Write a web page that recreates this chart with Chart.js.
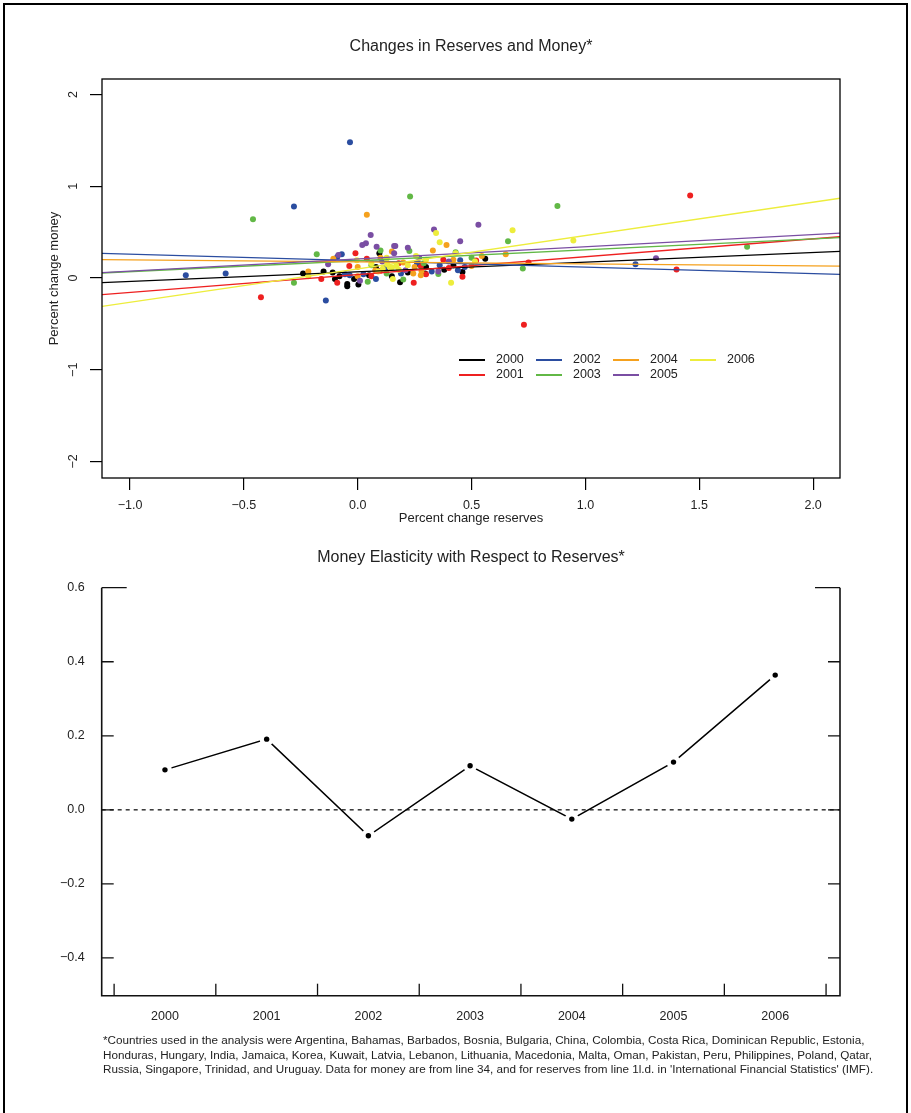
<!DOCTYPE html>
<html>
<head>
<meta charset="utf-8">
<script src="https://cdn.jsdelivr.net/npm/chart.js@4.4.1/dist/chart.umd.min.js"></script>
<style>
  body { margin: 0; background: #fff; font-family: "Liberation Sans", Arial, sans-serif; color: #222; }
  #page { position: relative; width: 911px; height: 1113px; overflow: hidden; }
  #frame { position: absolute; left: 3px; top: 3px; width: 901px; height: 1130px; border: 2px solid #000; }
  .ttl { position: absolute; left: 102px; width: 738px; text-align: center; font-size: 16px; line-height: 18px; }
  #c1 { position: absolute; left: 0; top: 0; }
  #c2 { position: absolute; left: 0; top: 530px; }
  #note { position: absolute; left: 103px; top: 1033px; font-size: 11.7px; line-height: 14.5px; white-space: nowrap; }
</style>
</head>
<body>
<div id="page">
  <div id="frame"></div>
  <canvas id="c1" width="911" height="535"></canvas>
  <canvas id="c2" width="911" height="500"></canvas>
  <div class="ttl" style="top:37px">Changes in Reserves and Money*</div>
  <div class="ttl" style="top:548px">Money Elasticity with Respect to Reserves*</div>
  <div id="note">*Countries used in the analysis were Argentina, Bahamas, Barbados, Bosnia, Bulgaria, China, Colombia, Costa Rica, Dominican Republic, Estonia,<br>Honduras, Hungary, India, Jamaica, Korea, Kuwait, Latvia, Lebanon, Lithuania, Macedonia, Malta, Oman, Pakistan, Peru, Philippines, Poland, Qatar,<br>Russia, Singapore, Trinidad, and Uruguay. Data for money are from line 34, and for reserves from line 1l.d. in 'International Financial Statistics' (IMF).</div>
</div>
<script>
// ---- data ----
const years = [2000, 2001, 2002, 2003, 2004, 2005, 2006];
const colors = ['#000000', '#ee2020', '#2b4da0', '#62b846', '#f5a11e', '#7a4ea3', '#eded3c'];

// [percent change reserves, percent change money] by year
const pts2000 = [[-0.24,0.05],[-0.15,0.07],[-0.11,0.06],[-0.10,-0.01],[-0.046,-0.065],[-0.046,-0.09],[0.003,-0.07],[-0.016,-0.01],[0.095,0.27],[0.186,-0.045],[0.296,0.05],[0.46,0.065],[0.56,0.21],[0.05,0.03],[0.12,0.10],[0.22,0.06],[0.30,0.12],[0.38,0.09],[0.15,0.02],[0.27,0.15],[0.42,0.14],[0.08,0.12],[-0.08,0.02]];
const pts2001 = [[-0.425,-0.21],[-0.16,-0.01],[-0.09,-0.05],[-0.01,0.27],[-0.037,0.13],[0.04,0.21],[0.246,-0.05],[0.46,0.015],[0.277,0.13],[0.40,0.11],[0.376,0.20],[0.73,-0.51],[1.46,0.90],[1.40,0.094],[0.75,0.17],[0.10,0.08],[0.18,0.16],[0.30,0.04],[0.52,0.19],[0.06,0.02]];
const pts2002 = [[-0.034,1.48],[-0.28,0.78],[-0.755,0.03],[-0.58,0.05],[-0.14,-0.245],[-0.07,0.26],[-0.09,0.23],[-0.035,0.03],[-0.056,0.04],[0.025,0.04],[0.08,-0.01],[0.47,0.12],[0.44,0.086],[0.45,0.195],[0.325,0.07],[0.19,0.05],[1.22,0.15],[0.12,0.11],[0.26,0.17],[0.36,0.14]];
const pts2003 = [[-0.46,0.64],[0.23,0.89],[0.877,0.786],[-0.28,-0.05],[1.71,0.34],[0.725,0.105],[-0.18,0.26],[0.66,0.40],[0.10,0.30],[0.044,-0.04],[0.354,0.043],[0.20,-0.015],[0.127,0.05],[0.43,0.28],[0.227,0.295],[0.29,0.16],[0.50,0.22],[0.06,0.14]];
const pts2004 = [[0.04,0.69],[-0.107,0.21],[-0.217,0.07],[0,0.12],[0,0.02],[0.077,0.086],[0.15,0.29],[0.39,0.36],[0.65,0.26],[0.545,0.24],[0.50,0.13],[0.33,0.30],[0.277,0.03],[0.244,0.05],[0.28,0.076],[0.20,0.17],[0.10,0.22],[0.42,0.20],[0.25,0.12]];
const pts2005 = [[0.53,0.58],[0.335,0.53],[0.45,0.40],[1.31,0.216],[0.057,0.47],[0.02,0.36],[0.036,0.38],[0.083,0.34],[0.16,0.35],[-0.13,0.15],[-0.085,0.25],[0.16,0.27],[0.01,-0.03],[0.22,0.33],[0.165,0.35],[0.21,0.086],[0.108,0.18],[0.354,0.07],[0.27,0.22],[0.40,0.18]];
const pts2006 = [[0.68,0.52],[0.947,0.41],[0.344,0.49],[0.36,0.39],[0.515,0.18],[0.41,-0.05],[0.154,-0.01],[0.43,0.27],[0.256,0.24],[0.14,0.12],[0.127,0.21],[-0.217,0.02],[-0.004,0.195],[0.06,0.16],[0.15,0.115],[0.127,0.22],[0.11,0.10],[0.17,0.13],[0.13,0.15],[0.18,0.09],[0.09,0.07],[0.30,0.20],[0.22,0.14]];
const scatterPts = [pts2000, pts2001, pts2002, pts2003, pts2004, pts2005, pts2006];

// fitted lines, value at left and right edge of the x range
const xRange = [-1.123, 2.118];
const fitLeft  = [-0.05, -0.18, 0.27, 0.055, 0.20, 0.06, -0.31];
const fitRight = [0.29, 0.45, 0.04, 0.44, 0.13, 0.49, 0.87];

const xTicksTop = [-1.0, -0.5, 0.0, 0.5, 1.0, 1.5, 2.0];
const yTicksTop = [-2, -1, 0, 1, 2];

// elasticity chart
const elasticity = [0.108, 0.191, -0.070, 0.119, -0.025, 0.129, 0.364];
const yTicksBot = [-0.4, -0.2, 0.0, 0.2, 0.4, 0.6];

const FONT = '"Liberation Sans", Arial, sans-serif';
const fmt = (v, d) => (v < -1e-9 ? '\u2212' : '') + Math.abs(v).toFixed(d);

// ---- top chart ----
const topPlugin = {
  id: 'topPlugin',
  afterDatasetsDraw(chart) {
    const { ctx, chartArea: a } = chart;
    ctx.save();
    ctx.strokeStyle = '#000';
    ctx.lineWidth = 1.3;
    ctx.strokeRect(a.left, a.top, a.right - a.left, a.bottom - a.top);
    // legend, filled column by column
    ctx.font = '12.5px ' + FONT;
    ctx.textBaseline = 'middle';
    years.forEach((yr, i) => {
      const x = a.left + 357 + Math.floor(i / 2) * 77;
      const y = a.top + 281 + (i % 2) * 15;
      ctx.strokeStyle = colors[i];
      ctx.lineWidth = 2;
      ctx.beginPath(); ctx.moveTo(x, y); ctx.lineTo(x + 26, y); ctx.stroke();
      ctx.fillStyle = '#222';
      ctx.fillText(String(yr), x + 37, y);
    });
    ctx.restore();
  }
};

const topSets = [];
years.forEach((yr, i) => {
  topSets.push({
    type: 'scatter',
    label: String(yr),
    data: scatterPts[i].map(p => ({ x: p[0], y: p[1] })),
    backgroundColor: colors[i],
    borderWidth: 0,
    pointRadius: 3,
    order: 20 - i
  });
  topSets.push({
    type: 'line',
    label: 'fit ' + yr,
    data: [{ x: xRange[0], y: fitLeft[i] }, { x: xRange[1], y: fitRight[i] }],
    borderColor: colors[i],
    borderWidth: 1.3,
    pointRadius: 0,
    order: 10 - i
  });
});

new Chart(document.getElementById('c1'), {
  type: 'scatter',
  data: { datasets: topSets },
  options: {
    responsive: false,
    animation: false,
    events: [],
    layout: { padding: { top: 79, right: 71, left: 0, bottom: 0 } },
    plugins: { legend: { display: false }, tooltip: { enabled: false } },
    scales: {
      x: {
        type: 'linear', min: xRange[0], max: xRange[1],
        afterBuildTicks: s => { s.ticks = xTicksTop.map(v => ({ value: v })); },
        afterFit: s => { s.height = 57; },
        border: { display: false },
        grid: { drawOnChartArea: false, drawTicks: true, tickLength: 12, color: '#000', lineWidth: 1.2 },
        ticks: { color: '#222', padding: 8, font: { size: 12.5, family: FONT }, callback: v => fmt(v, 1), maxRotation: 0 },
        title: { display: true, text: 'Percent change reserves', color: '#222', font: { size: 13, family: FONT }, padding: { top: 0, bottom: 9 } }
      },
      y: {
        type: 'linear', min: -2.18, max: 2.17,
        afterBuildTicks: s => { s.ticks = yTicksTop.map(v => ({ value: v })); },
        afterFit: s => { s.width = 102; },
        border: { display: false },
        grid: { drawOnChartArea: false, drawTicks: true, tickLength: 12, color: '#000', lineWidth: 1.2 },
        ticks: { color: '#222', padding: 9, minRotation: 90, maxRotation: 90, crossAlign: 'center', font: { size: 12.5, family: FONT }, callback: v => fmt(v, 0) },
        title: { display: true, text: 'Percent change money', color: '#222', font: { size: 13, family: FONT }, padding: { top: 47, bottom: 0 } }
      }
    }
  },
  plugins: [topPlugin]
});

// ---- bottom chart ----
const botPlugin = {
  id: 'botPlugin',
  beforeDatasetsDraw(chart) {
    const { ctx, chartArea: a, scales } = chart;
    const y0 = scales.y.getPixelForValue(0);
    ctx.save();
    ctx.strokeStyle = '#000';
    ctx.lineWidth = 1.2;
    ctx.setLineDash([4, 4]);
    ctx.beginPath(); ctx.moveTo(a.left, y0); ctx.lineTo(a.right, y0); ctx.stroke();
    ctx.restore();
  },
  afterDatasetsDraw(chart) {
    const { ctx, chartArea: a, scales } = chart;
    ctx.save();
    ctx.strokeStyle = '#111';
    ctx.lineWidth = 1.6;
    ctx.beginPath();
    ctx.moveTo(a.left, a.top); ctx.lineTo(a.left, a.bottom);
    ctx.lineTo(a.right, a.bottom); ctx.lineTo(a.right, a.top);
    ctx.stroke();
    ctx.lineWidth = 1.3;
    const top = yTicksBot[yTicksBot.length - 1];
    yTicksBot.forEach(v => {
      const y = scales.y.getPixelForValue(v);
      const len = v === top ? 25 : 12;
      ctx.beginPath();
      ctx.moveTo(a.left, y); ctx.lineTo(a.left + len, y);
      ctx.moveTo(a.right, y); ctx.lineTo(a.right - len, y);
      ctx.stroke();
    });
    // ticks between the years
    const edges = years.map(yr => yr - 0.5).concat([years[years.length - 1] + 0.5]);
    edges.forEach(v => {
      const x = scales.x.getPixelForValue(v);
      ctx.beginPath(); ctx.moveTo(x, a.bottom); ctx.lineTo(x, a.bottom - 12); ctx.stroke();
    });
    ctx.restore();
  }
};

const elastPts = years.map((yr, i) => ({ x: yr, y: elasticity[i] }));

new Chart(document.getElementById('c2'), {
  type: 'line',
  data: {
    datasets: [
      { data: elastPts, borderColor: '#000', borderWidth: 1.5, pointRadius: 7, pointBackgroundColor: '#fff', pointBorderWidth: 0, order: 2 },
      { data: elastPts, showLine: false, pointRadius: 2.7, pointBackgroundColor: '#000', pointBorderWidth: 0, order: 1 }
    ]
  },
  options: {
    responsive: false,
    animation: false,
    events: [],
    layout: { padding: { top: 57.7, right: 71, left: 0, bottom: 0 } },
    plugins: { legend: { display: false }, tooltip: { enabled: false } },
    scales: {
      x: {
        type: 'linear', min: 1999.378, max: 2006.637,
        afterBuildTicks: s => { s.ticks = years.map(v => ({ value: v })); },
        afterFit: s => { s.height = 34.3; },
        border: { display: false },
        grid: { display: false },
        ticks: { color: '#222', padding: 5, font: { size: 12.5, family: FONT }, callback: v => String(v), maxRotation: 0 }
      },
      y: {
        type: 'linear', min: -0.502, max: 0.6,
        afterBuildTicks: s => { s.ticks = yTicksBot.map(v => ({ value: v })); },
        afterFit: s => { s.width = 101.7; },
        border: { display: false },
        grid: { display: false },
        ticks: { color: '#222', padding: 9, font: { size: 12.5, family: FONT }, callback: v => fmt(v, 1) }
      }
    }
  },
  plugins: [botPlugin]
});
</script>
</body>
</html>
